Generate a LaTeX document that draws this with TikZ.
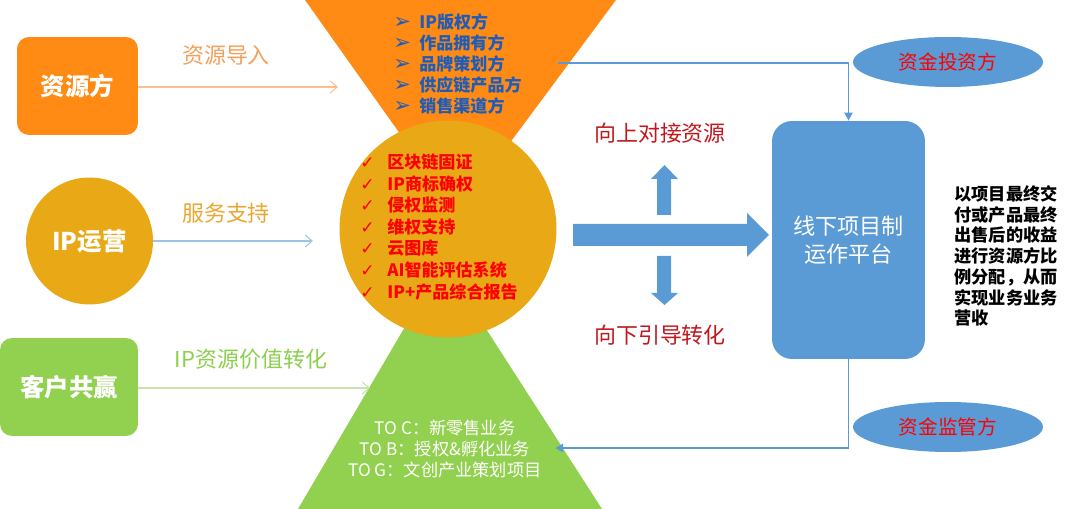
\documentclass[tikz,border=0pt]{standalone}
\usepackage{fontspec}
\setmainfont{Noto Sans CJK SC}
\newfontfamily\symfont{DejaVu Sans}
\usetikzlibrary{arrows.meta,positioning,shapes.geometric}
\definecolor{IPOrange}{HTML}{FF8A14}
\definecolor{IPGold}{HTML}{E9A816}
\definecolor{IPGreen}{HTML}{92D050}
\definecolor{IPBlue}{HTML}{5B9BD5}
\definecolor{IPNavyText}{HTML}{1F5CB8}
\definecolor{IPRed}{HTML}{FF0000}
\definecolor{IPDarkRed}{HTML}{C0181E}
\definecolor{IPOrangeLine}{HTML}{FBC08E}
\definecolor{IPBlueLine}{HTML}{9DC3E6}
\definecolor{IPGreenLine}{HTML}{C5E6A6}
\definecolor{IPOrangeText}{HTML}{F5A05A}
\definecolor{IPGoldText}{HTML}{EAA630}
\definecolor{IPGreenText}{HTML}{8CCF4E}
\newcommand{\holderbullet}{\makebox[.52cm][l]{\symfont\fontsize{12}{12}\selectfont ➢}}
\newcommand{\servicetick}{\makebox[.54cm][l]{\symfont ✓}}

\begin{document}
\begin{tikzpicture}[x=0.02cm,y=-0.02cm,
    party/.style={rounded corners=.24cm,minimum height=1.96cm,text=white,
      inner sep=0pt,font=\fontsize{13.9}{16}\selectfont\bfseries},
    flowlabel/.style={inner sep=0pt,font=\fontsize{12.5}{15}\selectfont},
    feed/.style={-{Straight Barb[length=.14cm,width=.24cm]},line width=.6pt},
    link/.style={-{Triangle[length=.16cm,width=.16cm]},line width=1.1pt,IPBlue},
    fund/.style={ellipse,fill=IPBlue,minimum width=3.8cm,minimum height=1cm,
      text=IPRed,font=\fontsize{11.2}{13}\selectfont}
  ]
  \path[use as bounding box] (0,0) rectangle (1080,509);
  \fill[IPOrange] (305,0) -- (616,0) -- (457,214) -- cycle;
  \fill[IPGreen] (443,262) -- (602,509) -- (298,509) -- cycle;
  \node[circle,fill=IPGold,minimum size=4.34cm,inner sep=0pt] (core) at (448,229) {};

  \node[anchor=west,align=left,inner sep=0pt,text=IPNavyText,
    font=\fontsize{9.7}{11.9}\selectfont\bfseries] (holders) at (393,64)
    {\holderbullet IP版权方\\
     \holderbullet 作品拥有方\\
     \holderbullet 品牌策划方\\
     \holderbullet 供应链产品方\\
     \holderbullet 销售渠道方};
  \node[anchor=west,align=left,inner sep=0pt,text=IPRed,
    font=\fontsize{9.7}{12.3}\selectfont\bfseries] (services) at (360,227)
    {\servicetick 区块链固证\\
     \servicetick IP商标确权\\
     \servicetick 侵权监测\\
     \servicetick 维权支持\\
     \servicetick 云图库\\
     \servicetick AI智能评估系统\\
     \servicetick IP+产品综合报告};
  \node[align=center,inner sep=0pt,text=white,
    font=\fontsize{9.8}{11.9}\selectfont] (business) at (445,449)
    {TO C：新零售业务\\TO B：授权\&孵化业务\\TO G：文创产业策划项目};

  \node[party,fill=IPOrange,minimum width=2.42cm] (source) at (77.5,86) {资源方};
  \node[circle,fill=IPGold,minimum size=2.54cm,inner sep=0pt,text=white,
    font=\fontsize{13.9}{16}\selectfont\bfseries] (ipop) at (89.5,241) {IP运营};
  \node[party,fill=IPGreen,minimum width=2.76cm] (client) at (69,387) {客户共赢};

  \node[flowlabel,text=IPOrangeText] (importlbl) at (226,55) {资源导入};
  \node[flowlabel,text=IPGoldText] (supportlbl) at (226,213) {服务支持};
  \node[flowlabel,text=IPGreenText] (valuelbl) at (251,359) {IP资源价值转化};
  \coordinate (sourcein) at (338,87);
  \coordinate (ipopin) at (313,241);
  \coordinate (clientin) at (370,388);
  \draw[feed,IPOrangeLine] (source.east |- sourcein) -- (sourcein);
  \draw[feed,IPBlueLine] (ipop.east) -- (ipopin);
  \draw[feed,IPGreenLine] (client.east |- clientin) -- (clientin);

  \fill[IPBlue] (573,224) -- (747,224) -- (747,213) -- (769,235) -- (747,257)
    -- (747,246) -- (573,246) -- cycle;
  \fill[IPBlue] (657,215) -- (657,179) -- (651,179) -- (664.5,165) -- (678,179)
    -- (671,179) -- (671,215) -- cycle;
  \fill[IPBlue] (657,256) -- (657,293) -- (651,293) -- (664.5,305) -- (678,293)
    -- (671,293) -- (671,256) -- cycle;
  \node[flowlabel,text=IPDarkRed] (uplbl) at (660,133) {向上对接资源};
  \node[flowlabel,text=IPDarkRed] (downlbl) at (660,335) {向下引导转化};

  \node[rounded corners=.4cm,fill=IPBlue,minimum width=3.06cm,minimum height=4.76cm,
    align=center,text=white,font=\fontsize{12.6}{16}\selectfont] (platform) at (848.5,240)
    {线下项目制\\运作平台};
  \node[fund] (investor) at (948,62) {资金投资方};
  \node[fund] (supervisor) at (948,427) {资金监管方};
  \node[anchor=west,align=left,inner sep=0pt,
    font=\fontsize{9.8}{11.8}\selectfont\bfseries] (note) at (954,256)
    {以项目最终交\\付或产品最终\\出售后的收益\\进行资源方比\\例分配，从而\\实现业务业务\\营收};

  \coordinate (holdersout) at (558,63);
  \coordinate (businessin) at (555,448);
  \draw[link] (holdersout) -| (platform.north);
  \draw[link] (platform.south) |- (businessin);
\end{tikzpicture}
\end{document}
